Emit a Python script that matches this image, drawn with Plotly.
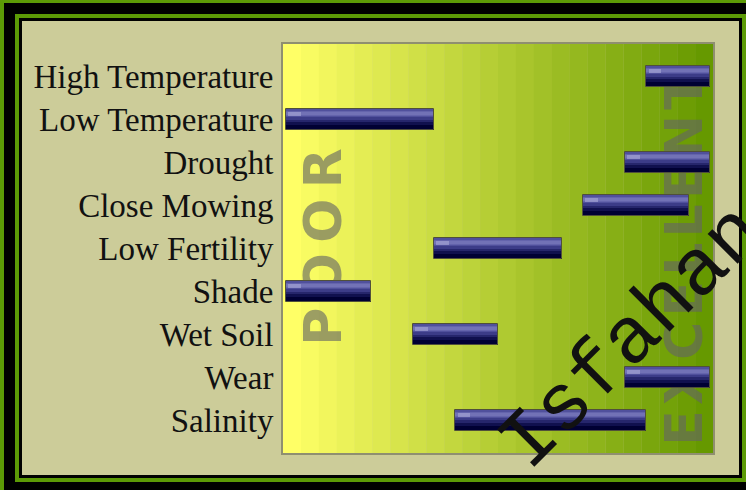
import plotly.graph_objects as go

# ---- data ----
categories = ["High Temperature", "Low Temperature", "Drought", "Close Mowing",
              "Low Fertility", "Shade", "Wet Soil", "Wear", "Salinity"]
range_low = [85, 0, 80, 70, 35, 0, 30, 80, 40]
range_high = [100, 35, 100, 95, 65, 20, 50, 100, 85]
scale_labels = ["POOR", "EXCELLENT"]
watermark = "Isfahan"

# ---- layout geometry ----
W, H = 746, 490
L, R, T, B = 283, 713, 44, 453          # plot area in pixels
XR = [-0.65, 100.7]
YR = [8.756, -0.756]                     # reversed: first category on top
BAR_W = 0.49

def px(x):
    return (x - L) / (R - L)

def py(y):
    return (B - y) / (B - T)

fig = go.Figure()

lengths = [h - l for l, h in zip(range_low, range_high)]

# bar gradient layers (fraction from top, color)
layers = [
    (0.00, 1.00, "#000033"),
    (0.00, 0.74, "#10104e"),
    (0.00, 0.62, "#26266c"),
    (0.00, 0.50, "#3c3c88"),
    (0.00, 0.40, "#50509c"),
    (0.10, 0.34, "#6464ac"),
    (0.16, 0.28, "#7272b6"),
]
for f0, f1, col in layers:
    fig.add_trace(go.Bar(
        y=categories, x=lengths, base=range_low, orientation="h",
        width=BAR_W * (f1 - f0), offset=-BAR_W / 2 + BAR_W * f0,
        marker=dict(color=col, line=dict(width=0)),
        hoverinfo="skip", showlegend=False))

# left-end glossy highlight
fig.add_trace(go.Bar(
    y=categories, x=[3.0] * len(categories), base=[l + 0.5 for l in range_low],
    orientation="h", width=BAR_W * 0.2, offset=-BAR_W / 2 + BAR_W * 0.14,
    marker=dict(color="rgba(170,170,215,0.6)", line=dict(width=0)),
    hoverinfo="skip", showlegend=False))

# outline
fig.add_trace(go.Bar(
    y=categories, x=lengths, base=range_low, orientation="h",
    width=BAR_W, offset=-BAR_W / 2,
    marker=dict(color="rgba(0,0,0,0)", line=dict(width=1, color="#50503a")),
    hoverinfo="skip", showlegend=False))

shapes = []
# frame (paper coordinates, below everything)
frame = [
    ((4, 3), (800, 520), "#000000"),
    ((15, 14), (746, 482), "#5c9a06"),
    ((19, 18), (742, 478), "#000000"),
    ((22, 21), (739, 475), "#cccc99"),
]
for (x0, y0), (x1, y1), col in frame:
    shapes.append(dict(type="rect", xref="paper", yref="paper",
                       x0=px(x0), x1=px(x1), y0=py(y1), y1=py(y0),
                       fillcolor=col, line=dict(width=0), layer="below"))

# horizontal gradient background of plot area (banded)
n_bands = 24
c0 = (255, 255, 102)
c1 = (102, 153, 0)
for i in range(n_bands):
    t = i / (n_bands - 1)
    col = "rgb(%d,%d,%d)" % tuple(round(a + (b - a) * t) for a, b in zip(c0, c1))
    x0 = XR[0] + (XR[1] - XR[0]) * i / n_bands
    x1 = XR[0] + (XR[1] - XR[0]) * (i + 1) / n_bands
    shapes.append(dict(type="rect", xref="x", yref="paper",
                       x0=x0, x1=x1 + 0.05, y0=0, y1=1,
                       fillcolor=col, line=dict(width=0), layer="below"))

# POOR / EXCELLENT vertical labels behind bars (letter-spaced)
def xdata(p):
    return XR[0] + (p - L) / (R - L) * (XR[1] - XR[0])

for text, sep, cx, cy, sz in [(scale_labels[0], "\u2009", 318.5, 247, 52),
                              (scale_labels[1], "\u200a", 680, 260, 52)]:
    shapes.append(dict(type="rect", xref="x", yref="paper",
                       x0=xdata(cx) - 1, x1=xdata(cx) + 1,
                       y0=py(cy) - 0.01, y1=py(cy) + 0.01,
                       fillcolor="rgba(0,0,0,0)", line=dict(width=0),
                       layer="below",
                       label=dict(text=sep.join(text), textangle=-90,
                                  textposition="middle center",
                                  font=dict(family="DejaVu Sans", size=sz,
                                            color="rgba(100,100,100,0.62)",
                                            weight="bold"))))

fig.update_layout(
    width=W, height=H,
    margin=dict(l=L, r=W - R, t=T, b=H - B, pad=0),
    paper_bgcolor="#5c9a06",
    plot_bgcolor="rgba(0,0,0,0)",
    barmode="overlay",
    bargap=0,
    shapes=shapes,
    xaxis=dict(range=XR, showgrid=False, zeroline=False, showticklabels=False,
               ticks="", showline=True, mirror=True, linecolor="#8f8f70",
               linewidth=2, fixedrange=True),
    yaxis=dict(range=YR, type="category", showgrid=False, zeroline=False,
               ticks="", ticklabelstandoff=1,
               tickfont=dict(family="Liberation Serif", size=33, color="#111111"),
               showline=True, mirror=True, linecolor="#8f8f70", linewidth=2,
               fixedrange=True),
    annotations=[dict(text=watermark, xref="paper", yref="paper",
                      x=px(632), y=py(338), xanchor="center", yanchor="middle",
                      showarrow=False, textangle=-45,
                      font=dict(family="Liberation Mono", size=80, color="#111111"))],
)

fig.write_html("out.html", config={"displayModeBar": False},
               post_script="document.body.style.margin='0';document.body.style.overflow='hidden';")
